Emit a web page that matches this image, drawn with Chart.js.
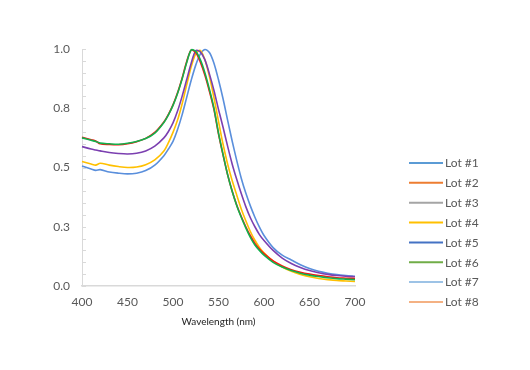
<!DOCTYPE html>
<html>
<head>
<meta charset="utf-8">
<script src="https://cdn.jsdelivr.net/npm/chart.js@4.4.1/dist/chart.umd.min.js"></script>
<style>
  html, body { margin:0; padding:0; background:#fff; }
  canvas { display:block; }
</style>
</head>
<body>
<canvas id="spectra" width="530" height="370"></canvas>
<script>
// Wavelength grid (nm)
const wavelengths = [400,410,415,420,430,440,450,460,470,480,490,495,500,505,510,515,520,525,530,535,
    540,545,550,555,560,565,570,575,580,585,590,595,600,610,620,630,640,650,660,670,680,690,700];

// Normalised absorbance per lot
const lot1 = [0.506,0.494,0.488,0.491,0.481,0.476,0.473,0.476,0.487,0.510,0.550,0.578,0.610,0.660,0.722,0.795,0.868,0.932,0.978,0.998,
    0.985,0.940,0.870,0.790,0.700,0.612,0.530,0.455,0.392,0.338,0.290,0.248,0.213,0.162,0.130,0.110,0.090,0.074,0.062,0.054,0.048,0.044,0.041];
const lot2 = [0.628,0.617,0.612,0.600,0.597,0.596,0.600,0.609,0.623,0.648,0.692,0.724,0.764,0.815,0.877,0.946,0.996,0.985,0.945,0.890,
    0.822,0.745,0.642,0.553,0.470,0.401,0.342,0.293,0.250,0.212,0.180,0.156,0.137,0.106,0.085,0.069,0.058,0.050,0.044,0.039,0.035,0.033,0.031];
const lot3 = [];
const lot4 = [0.525,0.515,0.510,0.518,0.510,0.504,0.500,0.502,0.512,0.532,0.570,0.605,0.648,0.700,0.768,0.848,0.925,0.980,0.994,0.955,
    0.885,0.795,0.695,0.598,0.515,0.445,0.384,0.325,0.275,0.230,0.193,0.163,0.140,0.105,0.080,0.062,0.049,0.039,0.032,0.027,0.023,0.021,0.019];
const lot5 = [0.588,0.578,0.574,0.570,0.563,0.559,0.557,0.560,0.570,0.590,0.625,0.652,0.688,0.738,0.800,0.870,0.940,0.993,0.988,0.955,
    0.895,0.825,0.745,0.670,0.590,0.515,0.450,0.390,0.335,0.288,0.250,0.217,0.192,0.150,0.118,0.095,0.078,0.065,0.056,0.049,0.044,0.041,0.039];
const lot6 = [0.625,0.615,0.610,0.603,0.600,0.598,0.602,0.610,0.622,0.645,0.690,0.722,0.762,0.812,0.873,0.942,0.996,0.990,0.955,0.900,
    0.830,0.750,0.645,0.555,0.470,0.400,0.340,0.290,0.245,0.205,0.173,0.150,0.130,0.100,0.080,0.065,0.054,0.046,0.040,0.035,0.031,0.029,0.027];
const lot7 = [];
const lot8 = [];

const lotNames = ['Lot #1','Lot #2','Lot #3','Lot #4','Lot #5','Lot #6','Lot #7','Lot #8'];
const lotSeries = [lot1, lot2, lot3, lot4, lot5, lot6, lot7, lot8];
const lineColors = ['#5A8FDC','#FF1010','#A5A5A5','#FFC000','#7B3FB0','#12B04C','#9DC3E6','#F4B183'];
const legendColors = ['#5B9BD5','#ED7D31','#A5A5A5','#FFC000','#4472C4','#70AD47','#9DC3E6','#F4B183'];
const drawOrder = [5,2,6,4,3,1,7,8];

const yTicks = [0, 0.25, 0.5, 0.75, 1];
const minorStep = 0.05;

const FONT = 'Lato, "Open Sans", sans-serif';
const GRAY = '#595959';

// Excel-style minor ticks on the value axis (inside the plot)
const minorTicks = {
    id: 'minorTicks',
    afterDatasetsDraw(chart) {
        const y = chart.scales.y, ctx = chart.ctx, left = chart.chartArea.left;
        ctx.save();
        ctx.strokeStyle = '#d9d9d9';
        ctx.lineWidth = 1;
        for (let v = y.min; v <= y.max + 1e-9; v += minorStep) {
            const py = Math.round(y.getPixelForValue(v)) + 0.5;
            ctx.beginPath(); ctx.moveTo(left, py); ctx.lineTo(left + 4, py); ctx.stroke();
        }
        ctx.restore();
    }
};

// Legend drawn to the right, lower half like the original
const sideLegend = {
    id: 'sideLegend',
    afterDraw(chart) {
        const ctx = chart.ctx, x0 = chart.chartArea.right + 54, y0 = 163, gap = 19.85;
        ctx.save();
        ctx.font = '12px ' + FONT;
        ctx.textBaseline = 'middle';
        ctx.fillStyle = GRAY;
        lotNames.forEach((name, i) => {
            const yy = y0 + i * gap;
            ctx.strokeStyle = legendColors[i];
            ctx.lineWidth = 2;
            ctx.beginPath(); ctx.moveTo(x0, yy); ctx.lineTo(x0 + 34, yy); ctx.stroke();
            ctx.fillText(name, x0 + 36, yy + 0.5);
        });
        ctx.restore();
    }
};

new Chart(document.getElementById('spectra'), {
    type: 'line',
    data: {
        labels: wavelengths,
        datasets: lotSeries.map((s, i) => ({
            label: lotNames[i],
            data: s,
            borderColor: lineColors[i],
            backgroundColor: lineColors[i],
            borderWidth: 1.6,
            pointRadius: 0,
            tension: 0.3,
            clip: 4,
            order: drawOrder[i]
        }))
    },
    options: {
        responsive: false,
        animation: false,
        layout: { padding: { left: 42, right: 175, top: 49, bottom: 38 } },
        plugins: { legend: { display: false }, tooltip: { enabled: false } },
        scales: {
            x: {
                type: 'linear', min: 400, max: 700,
                afterFit: s => { s.height = 46; },
                grid: { display: false, drawTicks: false },
                border: { color: '#d9d9d9', width: 1.5 },
                ticks: { stepSize: 50, padding: 9, color: GRAY, font: { family: FONT, size: 12 } },
                title: { display: true, text: 'Wavelength (nm)', color: '#222', padding: { top: 12 },
                         font: { family: FONT, size: 10 } }
            },
            y: {
                min: 0, max: 1,
                afterFit: s => { s.width = 40; },
                afterBuildTicks: s => { s.ticks = yTicks.map(v => ({ value: v })); },
                grid: { display: false, drawTicks: false },
                border: { color: '#d9d9d9', width: 1 },
                ticks: { padding: 12, color: GRAY, font: { family: FONT, size: 12 },
                         callback: v => v.toFixed(1) }
            }
        }
    },
    plugins: [minorTicks, sideLegend]
});
</script>
</body>
</html>
